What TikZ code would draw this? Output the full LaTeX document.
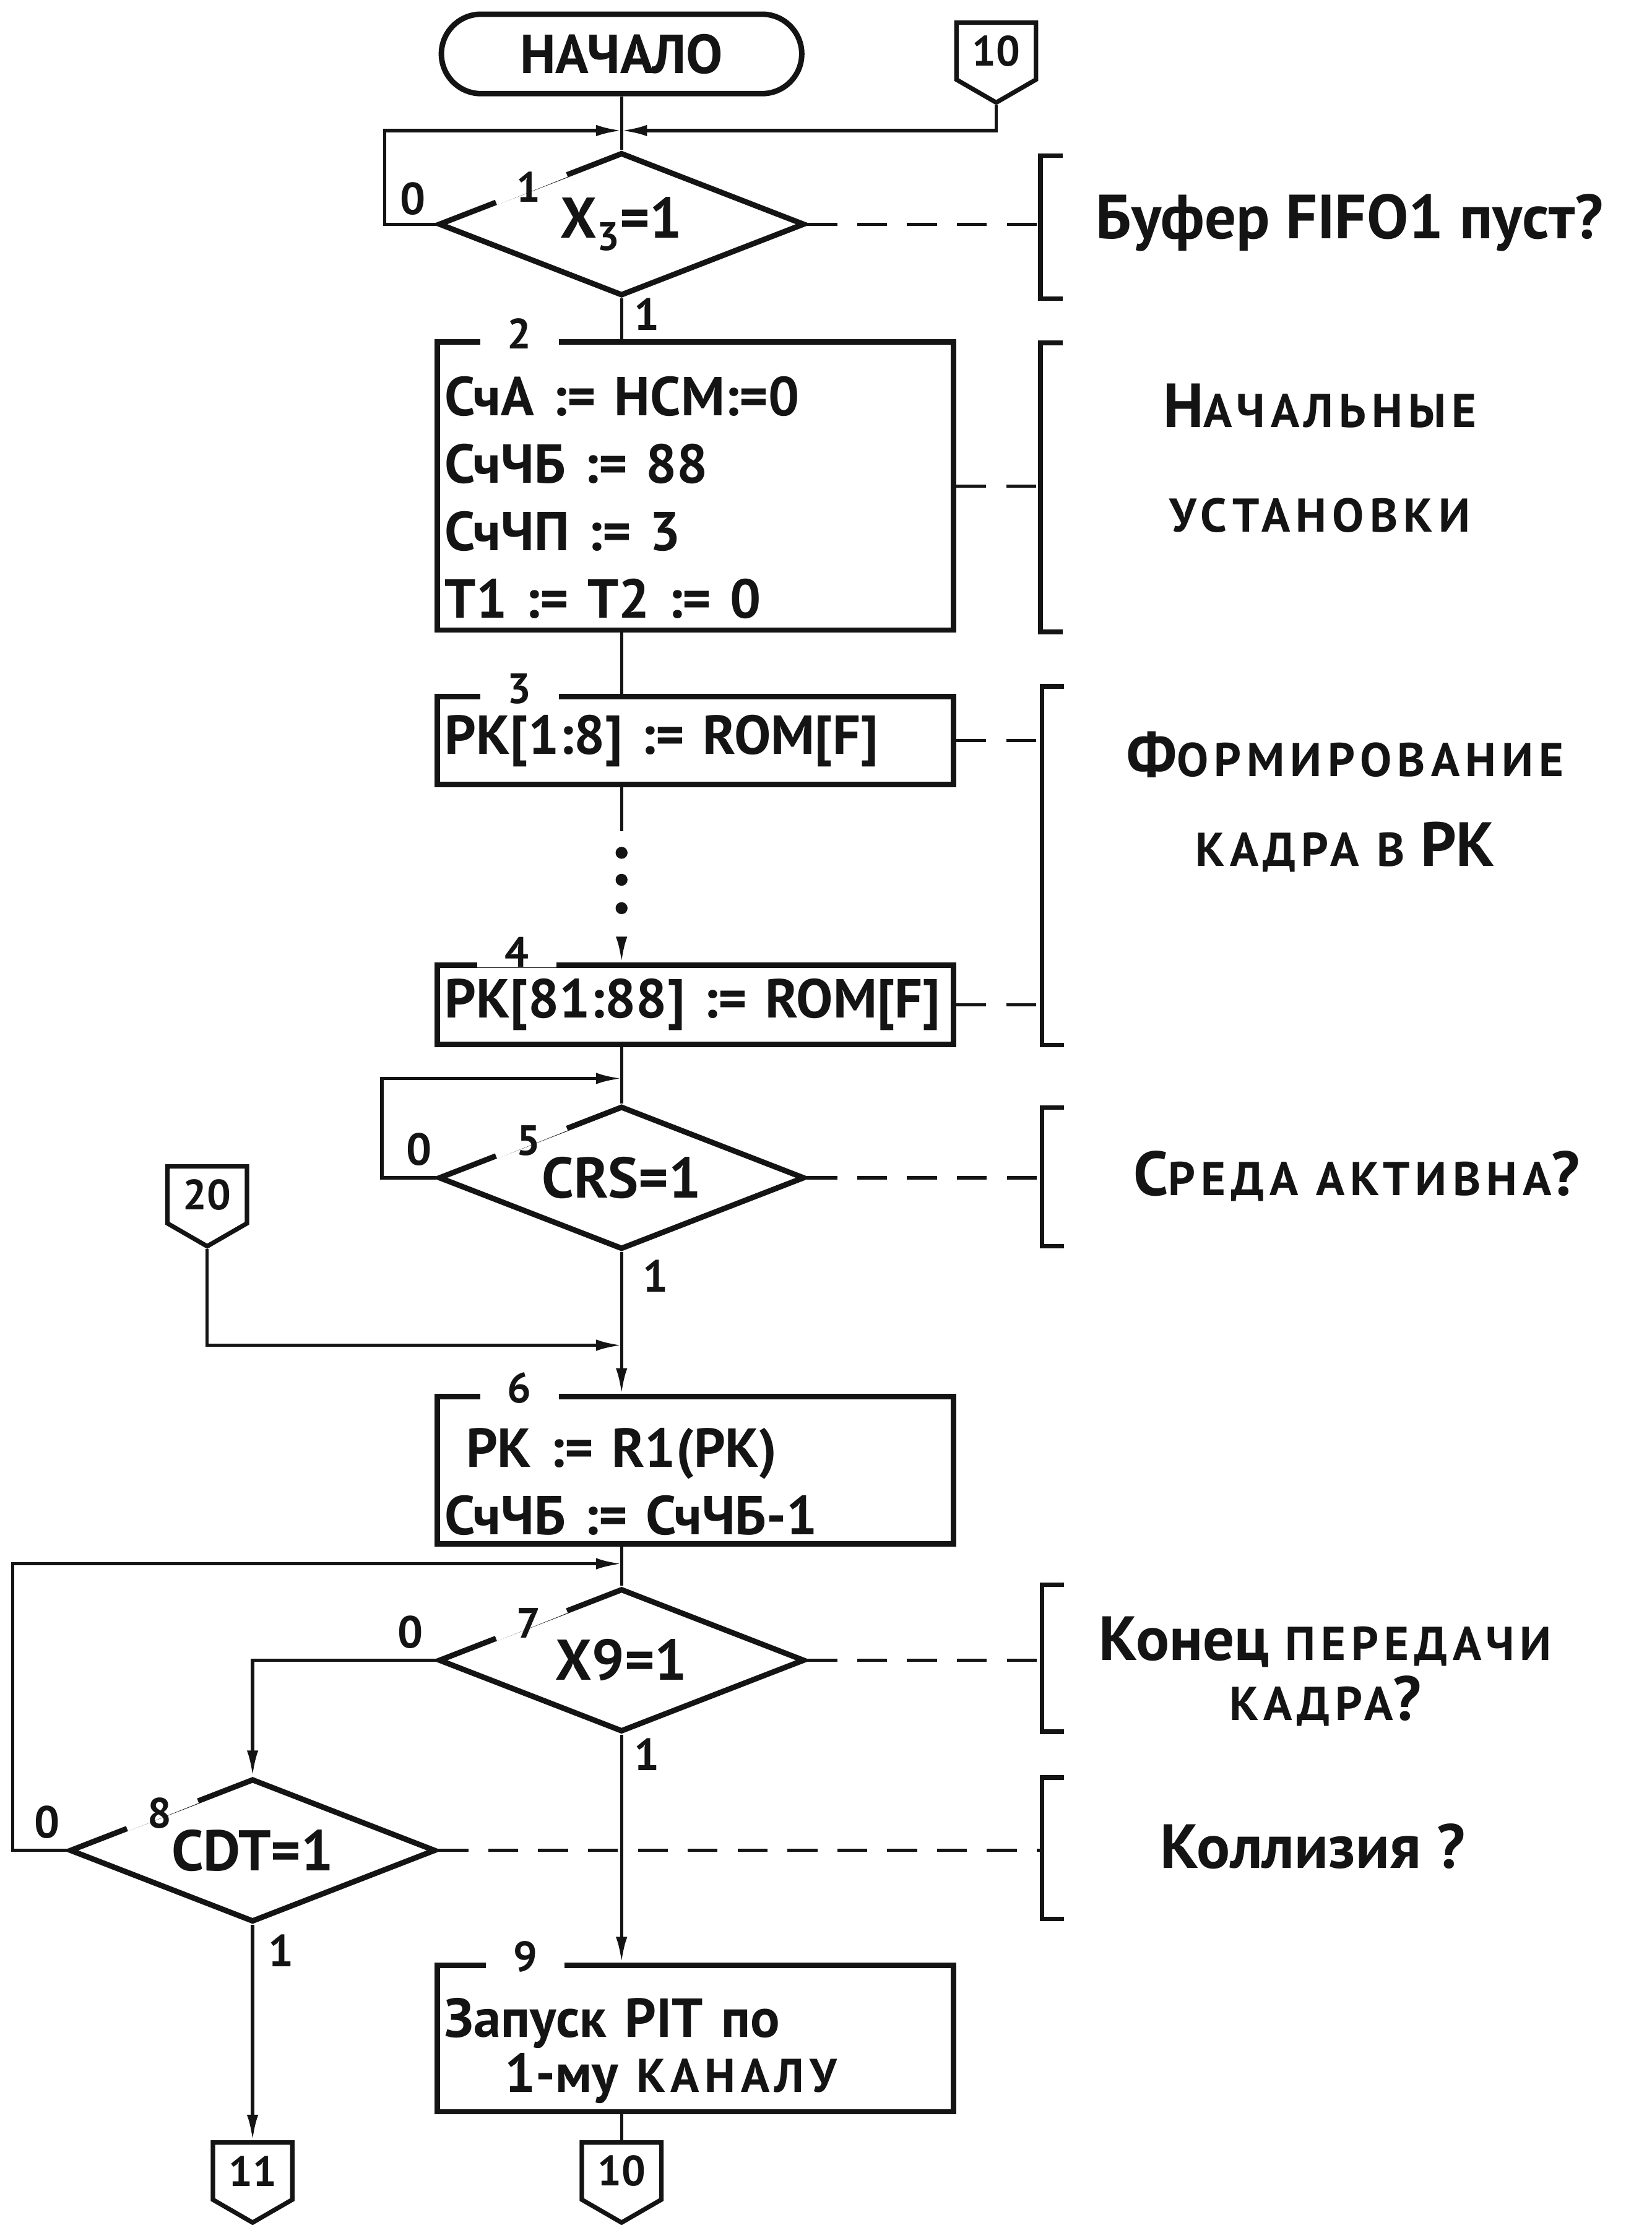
\documentclass[tikz,border=0pt]{standalone}
\usepackage{fontspec}
\setmainfont{PT Sans}
\newfontfamily\capsfont[LetterSpace=12]{PT Sans}
\usepackage{tikz}
\usetikzlibrary{arrows.meta,calc,shapes.geometric,shapes.symbols}
\definecolor{FlowInk}{HTML}{141414}
\newcommand{\smc}[1]{{\capsfont\bfseries\fontsize{19}{22}\selectfont #1}}
\tikzset{
  figtext/.style={font=\bfseries\fontsize{22}{27}\selectfont, text=FlowInk},
  notetext/.style={font=\bfseries\fontsize{25}{30}\selectfont, text=FlowInk, align=center},
  stepnum/.style={font=\bfseries\fontsize{17}{19}\selectfont, text=FlowInk, fill=white, inner xsep=11pt, inner ysep=0pt, text height=0.26cm, text depth=0pt},
  turnnum/.style={font=\bfseries\fontsize{17}{19}\selectfont, text=FlowInk, inner sep=0pt},
  edgegap/.style={draw=white, line width=4pt},
  branchnum/.style={font=\bfseries\fontsize{18}{20}\selectfont, text=FlowInk, inner sep=0pt},
  procbox/.style={rectangle, draw=FlowInk, line width=2.2pt, minimum width=7.28cm, text width=7.06cm, inner xsep=0.11cm, align=left},
  decision/.style={diamond, aspect=2.55, draw=FlowInk, line width=2.2pt, minimum width=5.16cm, minimum height=2.02cm, inner sep=0pt, font=\bfseries\fontsize{23}{27}\selectfont},
  termbox/.style={rectangle, rounded corners=0.56cm, draw=FlowInk, line width=2.2pt, minimum width=5.08cm, minimum height=1.12cm, font=\bfseries\fontsize{22}{26}\selectfont},
  pagelink/.style={signal, signal to=south, signal from=nowhere, signal pointer angle=120, draw=FlowInk, line width=1.8pt, minimum width=1.12cm, minimum height=1.0cm, inner sep=0pt, font=\bfseries\fontsize{17}{20}\selectfont},
  bracketbox/.style={rectangle, minimum width=0.3cm, inner sep=0pt},
  flowline/.style={draw=FlowInk, line width=1.3pt},
  flowarrow/.style={flowline, -{Latex[length=0.36cm, width=0.16cm]}},
  flowdash/.style={flowline, dash pattern=on 12pt off 8pt},
  brk/.style={draw=FlowInk, line width=1.8pt}
}
\begin{document}
\begin{tikzpicture}[x=0.02cm, y=-0.02cm, every node/.style={figtext}]
\path[fill=white] (0,0) rectangle (1164,1568);
\useasboundingbox (0,0) rectangle (1164,1568);
\node[termbox] (start) at (438,38) {НАЧАЛО};
\node[pagelink] (c10) at (702,36) {10};
\coordinate (j1) at (438,92);
\node[decision] (d1) at (438,158) {\raisebox{-3pt}{X\raisebox{-5pt}{\fontsize{16}{16}\selectfont 3}=1}};
\node[procbox, minimum height=4.06cm] (b2) at (490,342.5) {\rule{0pt}{0.88cm}СчА := НСМ:=0\\СчЧБ := 88\\СчЧП := 3\\Т1 := Т2 := 0};
\node[procbox, minimum height=1.24cm] (b3) at (490,522) {РК[1:8] := ROM[F]};
\node[procbox, minimum height=1.12cm] (b4) at (490,708) {\raisebox{-2pt}{РК[81:88] := ROM[F]}};
\coordinate (j5) at (438,760);
\node[decision] (d5) at (438,830) {CRS=1};
\node[pagelink] (c20) at (146,842) {20};
\coordinate (j6) at (438,948);
\node[procbox, minimum height=2.0cm] (b6) at (490,1036) {\rule{0pt}{0.88cm}\hspace{0.3cm}РК := R1(РК)\\СчЧБ := СчЧБ-1};
\coordinate (j7) at (438,1102);
\node[decision] (d7) at (438,1170) {\raisebox{-4pt}{X9=1}};
\node[decision] (d8) at (178,1304) {CDT=1};
\node[procbox, minimum height=1.9cm] (b9) at (490,1436.5) {\rule{0pt}{0.9cm}Запуск PIT по\\[-5pt]\hspace{0.84cm}1-му \smc{КАНАЛУ}};
\node[pagelink] (c10b) at (438,1530) {10};
\node[pagelink] (c11) at (178,1530) {11};
\node[bracketbox, minimum height=2.0cm] (n1) at (741,160) {};
\node[bracketbox, minimum height=4.06cm] (n2) at (741,343.5) {};
\node[bracketbox, minimum height=5.04cm] (n3) at (742,610) {};
\node[bracketbox, minimum height=1.94cm] (n5) at (742,829.5) {};
\node[bracketbox, minimum height=2.06cm] (n7) at (742,1168.5) {};
\node[bracketbox, minimum height=1.98cm] (n8) at (742,1302.5) {};
\node[notetext] (t1) at (951,157) {Буфер FIFO1 пуст?};
\node[notetext] (t2) at (930,323) {Н\smc{АЧАЛЬНЫЕ}\\[12pt]\smc{УСТАНОВКИ}};
\node[notetext] (t3) at (948,565) {Ф\smc{ОРМИРОВАНИЕ}\\[6pt]\smc{КАДРА В} РК};
\node[notetext] (t5) at (956,829) {С\smc{РЕДА АКТИВНА}?};
\node[notetext] (t7) at (934,1178) {Конец \smc{ПЕРЕДАЧИ}\\[-6pt]\smc{КАДРА}?};
\node[notetext] (t8) at (925,1301) {Коллизия ?};
\draw[edgegap] ($(d1.north)!.3!(d1.west)$) -- ($(d1.north)!.68!(d1.west)$);
\draw[edgegap] ($(d5.north)!.3!(d5.west)$) -- ($(d5.north)!.68!(d5.west)$);
\draw[edgegap] ($(d7.north)!.3!(d7.west)$) -- ($(d7.north)!.68!(d7.west)$);
\draw[edgegap] ($(d8.north)!.3!(d8.west)$) -- ($(d8.north)!.68!(d8.west)$);
\node[turnnum] at ($(d1.north)!.5!(d1.west)$) {1};
\node[stepnum] at ($(b2.north west)+(60,0)$) {2};
\node[stepnum] at ($(b3.north west)+(60,0)$) {3};
\node[stepnum] at ($(b4.north west)+(58,-3)$) {4};
\node[turnnum] at ($(d5.north)!.5!(d5.west)$) {5};
\node[stepnum] at ($(b6.north west)+(60,0)$) {6};
\node[turnnum] at ($(d7.north)!.5!(d7.west)$) {7};
\node[turnnum] at ($(d8.north)!.5!(d8.west)$) {8};
\node[stepnum] at ($(b9.north west)+(64,0)$) {9};
\node[branchnum] at ($(d1.west)+(-16,-18)$) {0};
\node[branchnum] at ($(d1.south)+(18,11)$) {1};
\node[branchnum] at ($(d5.west)+(-12,-20)$) {0};
\node[branchnum] at ($(d5.south)+(24,17)$) {1};
\node[branchnum] at ($(d7.west)+(-18,-20)$) {0};
\node[branchnum] at ($(d7.south)+(18,14)$) {1};
\node[branchnum] at ($(d8.west)+(-14,-20)$) {0};
\node[branchnum] at ($(d8.south)+(20,18)$) {1};
\draw[flowline] (start) -- (d1.north);
\draw[flowarrow] (d1.west) -- ++(-36,0) |- (j1);
\draw[flowarrow] (c10.south) |- (j1);
\draw[flowline] (d1.south) -- (d1.south |- b2.north);
\draw[flowline] (d1.south |- b2.south) -- (d1.south |- b3.north);
\draw[flowarrow, dash pattern=on 17.6pt off 43pt on 20pt] (d1.south |- b3.south) -- (d1.south |- b4.north);
\fill[FlowInk] (438,601) circle (2.4pt);
\fill[FlowInk] (438,620) circle (2.4pt);
\fill[FlowInk] (438,640) circle (2.4pt);
\draw[flowline] (d1.south |- b4.south) -- (d5.north);
\draw[flowarrow] (d5.west) -- ++(-38,0) |- (j5);
\draw[flowarrow] (d5.south) -- (d5.south |- b6.north);
\draw[flowarrow] (c20.south) |- (j6);
\draw[flowline] (d5.south |- b6.south) -- (d7.north);
\draw[flowarrow] (d8.west) -- ++(-38,0) |- (j7);
\draw[flowarrow] (d7.west) -| (d8.north);
\draw[flowarrow] (d7.south) -- (d7.south |- b9.north);
\draw[flowarrow] (d8.south) -- (c11.north);
\draw[flowline] (d7.south |- b9.south) -- (c10b.north);
\draw[flowdash] (d1.east) -- (d1.east -| n1.west);
\draw[flowdash] (b2.east) -- (b2.east -| n2.west);
\draw[flowdash] (b3.east) -- (b3.east -| n3.west);
\draw[flowdash] (b4.east) -- (b4.east -| n3.west);
\draw[flowdash] (d5.east) -- (d5.east -| n5.west);
\draw[flowdash] (d7.east) -- (d7.east -| n7.west);
\draw[flowdash] (d8.east) -- (d8.east -| n8.west);
\draw[brk] (n1.north east) -- (n1.north west) -- (n1.south west) -- (n1.south east);
\draw[brk] (n2.north east) -- (n2.north west) -- (n2.south west) -- (n2.south east);
\draw[brk] (n3.north east) -- (n3.north west) -- (n3.south west) -- (n3.south east);
\draw[brk] (n5.north east) -- (n5.north west) -- (n5.south west) -- (n5.south east);
\draw[brk] (n7.north east) -- (n7.north west) -- (n7.south west) -- (n7.south east);
\draw[brk] (n8.north east) -- (n8.north west) -- (n8.south west) -- (n8.south east);
\end{tikzpicture}
\end{document}
